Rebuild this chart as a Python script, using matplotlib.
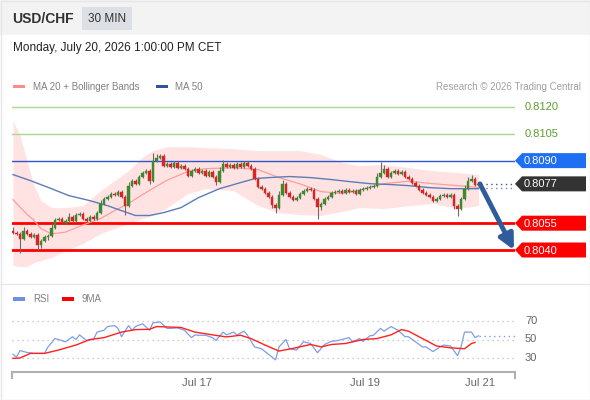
import matplotlib.pyplot as plt
from matplotlib.patches import Rectangle, Polygon

plt.rcParams['font.family'] = ['Liberation Sans', 'DejaVu Sans']

W, H = 590, 400

# USD/CHF 30 min candles (close of each bar, open = previous close)
first_open = 0.80509
closes = [
    0.80497, 0.80492, 0.80464, 0.80509, 0.80492, 0.80475, 0.80486, 0.80430, 0.80453, 0.80475,
    0.80481, 0.80525, 0.80570, 0.80576, 0.80553, 0.80565, 0.80587, 0.80565, 0.80598, 0.80604,
    0.80576, 0.80565, 0.80587, 0.80576, 0.80609, 0.80660, 0.80688, 0.80699, 0.80716, 0.80710,
    0.80727, 0.80699, 0.80648, 0.80760, 0.80788, 0.80771, 0.80811, 0.80833, 0.80844, 0.80788,
    0.80900, 0.80917, 0.80928, 0.80872, 0.80883, 0.80866, 0.80889, 0.80861, 0.80872, 0.80855,
    0.80816, 0.80844, 0.80855, 0.80833, 0.80844, 0.80816, 0.80839, 0.80811, 0.80783, 0.80844,
    0.80883, 0.80866, 0.80878, 0.80861, 0.80883, 0.80866, 0.80889, 0.80872, 0.80855, 0.80799,
    0.80755, 0.80743, 0.80721, 0.80699, 0.80654, 0.80637, 0.80710, 0.80771, 0.80721, 0.80699,
    0.80682, 0.80693, 0.80716, 0.80732, 0.80743, 0.80738, 0.80688, 0.80643, 0.80660, 0.80688,
    0.80699, 0.80721, 0.80727, 0.80732, 0.80721, 0.80738, 0.80727, 0.80732, 0.80716, 0.80738,
    0.80743, 0.80749, 0.80755, 0.80760, 0.80811, 0.80833, 0.80855, 0.80811, 0.80833, 0.80844,
    0.80827, 0.80839, 0.80811, 0.80799, 0.80777, 0.80760, 0.80738, 0.80721, 0.80710, 0.80699,
    0.80676, 0.80688, 0.80704, 0.80710, 0.80699, 0.80710, 0.80648, 0.80632, 0.80688, 0.80743,
    0.80788, 0.80799, 0.80766, 0.80771,
]
# wicks beyond the body, in pips
wick_hi = [
    2, 1, 1, 2, 1, 1, 1, 1, 1, 1,
    1, 2, 1, 1, 1, 1, 2, 1, 1, 1,
    1, 1, 1, 1, 1, 2, 1, 1, 1, 1,
    1, 1, 1, 2, 1, 1, 1, 1, 1, 1,
    4, 2, 1, 1, 1, 1, 1, 1, 1, 1,
    1, 1, 1, 1, 1, 1, 1, 1, 1, 2,
    2, 1, 1, 1, 1, 1, 1, 1, 1, 1,
    1, 1, 1, 1, 1, 1, 2, 2, 1, 1,
    1, 1, 1, 1, 1, 1, 1, 1, 1, 1,
    1, 1, 1, 1, 1, 1, 1, 1, 1, 1,
    1, 1, 1, 1, 2, 6, 2, 1, 1, 1,
    1, 1, 1, 1, 1, 1, 1, 1, 1, 1,
    1, 1, 1, 1, 1, 1, 1, 1, 1, 2,
    2, 2, 1, 1,
]
wick_lo = [
    1, 1, 8, 1, 1, 1, 1, 3, 2, 1,
    2, 1, 1, 1, 1, 1, 1, 1, 1, 1,
    1, 1, 1, 1, 1, 1, 1, 1, 1, 1,
    1, 1, 5, 1, 1, 1, 1, 1, 1, 2,
    1, 1, 1, 1, 1, 1, 1, 1, 1, 1,
    1, 1, 1, 1, 1, 1, 1, 1, 2, 1,
    1, 1, 1, 1, 1, 1, 1, 1, 1, 1,
    1, 1, 1, 1, 2, 3, 1, 1, 1, 1,
    1, 1, 1, 1, 1, 1, 1, 7, 2, 1,
    1, 1, 1, 1, 1, 1, 1, 1, 1, 1,
    1, 1, 1, 1, 1, 1, 1, 1, 1, 1,
    1, 1, 1, 1, 1, 1, 1, 1, 1, 1,
    1, 1, 1, 1, 1, 1, 2, 4, 1, 1,
    1, 1, 1, 1,
]

# MA 20 + Bollinger bands (sampled along the bars)
bb_idx = [0, 2, 4, 6, 8, 11, 15, 20, 25, 29, 33, 37, 40, 44, 50, 55, 63, 70, 76, 82,
          88, 94, 99, 106, 113, 120, 127, 133]
bb_upper = [0.81124, 0.81040, 0.80900, 0.80760, 0.80676, 0.80637, 0.80637, 0.80648, 0.80732, 0.80788,
            0.80844, 0.80920, 0.80956, 0.80978, 0.80978, 0.80973, 0.80967, 0.80956, 0.80956, 0.80956,
            0.80935, 0.80890, 0.80872, 0.80878, 0.80861, 0.80844, 0.80833, 0.80822]
bb_lower = [0.80313, 0.80307, 0.80307, 0.80330, 0.80340, 0.80358, 0.80397, 0.80436, 0.80492, 0.80520,
            0.80548, 0.80576, 0.80593, 0.80637, 0.80716, 0.80743, 0.80732, 0.80648, 0.80609, 0.80598,
            0.80593, 0.80615, 0.80637, 0.80632, 0.80648, 0.80660, 0.80632, 0.80648]
ma20 = [0.80682, 0.80640, 0.80600, 0.80565, 0.80520, 0.80490, 0.80500, 0.80540, 0.80576, 0.80620,
        0.80660, 0.80710, 0.80745, 0.80790, 0.80840, 0.80855, 0.80860, 0.80850, 0.80805, 0.80770,
        0.80727, 0.80716, 0.80735, 0.80771, 0.80785, 0.80771, 0.80760, 0.80750]

ma50_idx = [0, 5, 11, 16, 22, 27, 31, 35, 39, 43, 48, 53, 59, 65, 69, 73, 79, 85, 91, 96,
            102, 108, 113, 119, 125, 133]
ma50 = [0.80822, 0.80788, 0.80743, 0.80704, 0.80676, 0.80648, 0.80620, 0.80593, 0.80593, 0.80609,
        0.80637, 0.80693, 0.80743, 0.80777, 0.80799, 0.80805, 0.80811, 0.80805, 0.80794, 0.80783,
        0.80771, 0.80766, 0.80760, 0.80749, 0.80743, 0.80743]

rsi_idx = [0, 1, 2, 4, 6, 9, 10, 12, 13, 15,
           17, 18, 19, 21, 23, 24, 26, 27, 29, 30,
           31, 33, 34, 35, 37, 39, 40, 42, 44, 45,
           47, 49, 50, 51, 52, 53, 55, 57, 58, 60,
           61, 63, 64, 66, 67, 69, 71, 72, 74, 75,
           76, 78, 79, 81, 83, 85, 87, 89, 91, 93,
           95, 96, 97, 99, 100, 102, 103, 105, 106, 108,
           110, 112, 113, 115, 117, 118, 120, 122, 123, 125,
           127, 128, 129, 131, 132, 133]
rsi = [34, 31, 38, 36, 35, 35, 42, 51, 50, 47.5,
       53, 50, 55, 49, 50, 58, 60, 64, 65, 62,
       53, 65, 60, 64, 67, 60, 68, 69, 62, 62,
       62.5, 60, 56, 52, 55, 54.6, 54.6, 52, 49, 58,
       55, 58, 55, 59, 54.6, 42, 40, 37, 31, 28,
       42, 50, 40, 38.6, 47.5, 45.7, 35.7, 44.6, 48, 49,
       51, 52, 47.5, 51, 48, 54, 54.6, 62, 59, 64,
       60, 53, 53, 47.5, 42, 42, 37, 42, 44, 43,
       32.5, 42, 58, 58, 52, 54]
ma9_idx = [0, 2, 5, 9, 13, 18, 22, 26, 31, 35, 39, 41, 48, 52, 57, 61, 65, 68, 72, 76,
           80, 85, 88, 91, 95, 100, 104, 108, 111, 113, 117, 121, 125, 129, 131, 132]
ma9 = [29.6, 30, 35, 35, 38.6, 44, 50, 52, 58, 60.7, 61, 64, 63, 58, 55, 52.8, 54.6, 51, 44, 37.5,
       40.4, 44.6, 42, 44.6, 45.7, 50, 51, 55, 60.7, 59, 51, 43, 41, 40, 45.7, 46.8]

green_levels = [0.8120, 0.8105]
blue_level = 0.8090
red_levels = [0.8055, 0.8040]
last_price = 0.8077
ma50_last = 0.80745
rsi_levels = [70, 50, 30]
date_labels = ['Jul 17', 'Jul 19', 'Jul 21']
date_idx = [52.6, 100.6, 133.4]

fig = plt.figure(figsize=(W / 100, H / 100), dpi=100)
fig.patch.set_facecolor('white')


def box(l, t, r, b):
    return [l / W, 1 - b / H, (r - l) / W, (b - t) / H]


def price_at(y):
    # pixel row -> price (0.8120 at row 107, 0.8040 at row 250)
    return 0.8120 - (y - 107) * 0.008 / 143


def rsi_at(y):
    return 70 - (y - 321) * 40 / 37


x0 = (12 - 13) / 3.5
x1 = (515 - 13) / 3.5

# price panel
ax = fig.add_axes(box(12, 95, 515, 280))
ax.set_xlim(x0, x1)
ax.set_ylim(price_at(280), price_at(95))
ax.axis('off')

ax.fill_between(bb_idx, bb_lower, bb_upper, color='#ffe3e3', lw=0, zorder=1)
ax.plot(bb_idx, ma20, color='#ff9c9c', lw=0.9, zorder=3)
ax.plot(ma50_idx, ma50, color='#5b7db5', lw=1.0, zorder=3)

for lv in green_levels:
    ax.axhline(lv, color='#a8d98c', lw=1, zorder=2)
ax.axhline(blue_level, color='#2e56c8', lw=1, zorder=2)
for lv in red_levels:
    ax.axhline(lv, color='#ff0000', lw=2, zorder=2)

prev = first_open
for i, c in enumerate(closes):
    o = prev
    top, bot = max(o, c), min(o, c)
    hi = top + wick_hi[i] * 0.0001
    lo = bot - wick_lo[i] * 0.0001
    col = '#3c8a2e' if c >= o else '#dd2222'
    ax.vlines(i, lo, hi, color='#6b6b6b', lw=0.8, zorder=4)
    ax.add_patch(Rectangle((i - 0.4, bot), 0.8, max(top - bot, 0.00003),
                           facecolor=col, edgecolor=col, lw=0.3, zorder=5))
    prev = c

n = len(closes)
ax.plot([n - 0.2, x1], [last_price, last_price], color='#555555', lw=1, ls=(0, (1, 2.5)), zorder=3)
ax.plot([n - 0.2, x1], [ma50_last, ma50_last], color='#6f87b8', lw=1, ls=(0, (1, 2.5)), zorder=3)
ax.annotate('', xy=(x1 - 0.3, red_levels[1]), xytext=(n - 0.6, last_price),
            arrowprops=dict(arrowstyle='-|>,head_width=0.45,head_length=0.9',
                            lw=3.5, color='#2f5d9c', shrinkA=0, shrinkB=0),
            annotation_clip=False, zorder=6)

# RSI panel
ax2 = fig.add_axes(box(12, 310, 515, 372))
ax2.set_xlim(x0, x1)
ax2.set_ylim(rsi_at(372), rsi_at(310))
ax2.axis('off')
for lv in rsi_levels:
    ax2.axhline(lv, color='#bdbdbd', lw=0.9, ls=(0, (1, 3)))
ax2.plot(rsi_idx, rsi, color='#7d9de8', lw=0.9)
ax2.plot(ma9_idx, ma9, color='#ff2020', lw=1.0)
ax2.plot([n - 1, x1], [rsi[-1], rsi[-1]], color='#7d9de8', lw=1, ls=(0, (1, 2.5)))

# overlay in pixel coordinates
ov = fig.add_axes([0, 0, 1, 1])
ov.set_xlim(0, W)
ov.set_ylim(H, 0)
ov.axis('off')
ov.patch.set_alpha(0)

ov.add_patch(Rectangle((0, 0), W, 35, facecolor='#f3f3f3', edgecolor='none'))
ov.add_patch(Rectangle((82, 7), 50, 23, facecolor='#dcdfe3', edgecolor='none'))
ov.add_patch(Rectangle((0.5, 0.5), W - 1, H - 1, facecolor='none', edgecolor='#e6e6e6', lw=1))
ov.plot([0, W], [284, 284], color='#e8e8e8', lw=1)

ov.text(12, 19, 'USD/CHF', fontsize=10, fontweight='bold', color='#333333', va='center')
ov.text(107, 19, '30 MIN', fontsize=8.5, color='#333333', va='center', ha='center')
ov.text(13, 48, 'Monday, July 20, 2026 1:00:00 PM CET', fontsize=8.5, color='#222222', va='center')

ov.add_patch(Rectangle((13, 84.5), 12, 3.5, facecolor='#ff8a8a', edgecolor='none'))
ov.text(33, 86.5, 'MA 20 + Bollinger Bands', fontsize=7, color='#808080', va='center')
ov.add_patch(Rectangle((156, 84.5), 12, 3.5, facecolor='#2f5597', edgecolor='none'))
ov.text(175, 86.5, 'MA 50', fontsize=7, color='#808080', va='center')
ov.text(581, 86.5, 'Research \u00a9 2026 Trading Central', fontsize=7, color='#a0a0a0',
        va='center', ha='right')

ov.add_patch(Rectangle((13, 297), 12, 3.5, facecolor='#6f8fe0', edgecolor='none'))
ov.text(33, 298.5, 'RSI', fontsize=7, color='#808080', va='center')
ov.add_patch(Rectangle((62, 297), 12, 3.5, facecolor='#ff0000', edgecolor='none'))
ov.text(82, 298.5, '9MA', fontsize=7, color='#808080', va='center')


def row_of(price):
    return 107 + (0.8120 - price) * 143 / 0.008


for lv in green_levels:
    ov.text(525, row_of(lv), f'{lv:.4f}', fontsize=8, color='#5aa02c', va='center')


def tag(price, face, label):
    y = row_of(price)
    ov.add_patch(Polygon([(515, y), (522, y - 7.5), (586, y - 7.5), (586, y + 7.5), (522, y + 7.5)],
                         closed=True, facecolor=face, edgecolor='none'))
    ov.text(524, y + 0.5, label, fontsize=8, color='white', va='center')


tag(blue_level, '#1f6ff2', f'{blue_level:.4f}')
tag(last_price, '#333333', f'{last_price:.4f}')
for lv in red_levels:
    tag(lv, '#ff0000', f'{lv:.4f}')

for lv in rsi_levels:
    ov.text(525, 321 + (70 - lv) * 37 / 40, str(lv), fontsize=8, color='#666666', va='center')

ov.plot([12, 515], [372, 372], color='#b0b0b0', lw=1.5)
ov.plot([12, 12], [372, 378], color='#b0b0b0', lw=1.5)
ov.plot([515, 515], [372, 378], color='#b0b0b0', lw=1.5)
for lab, i in zip(date_labels, date_idx):
    ov.text(13 + i * 3.5, 383, lab, fontsize=8, color='#666666', ha='center', va='center')

plt.savefig('out.png', dpi=100)
